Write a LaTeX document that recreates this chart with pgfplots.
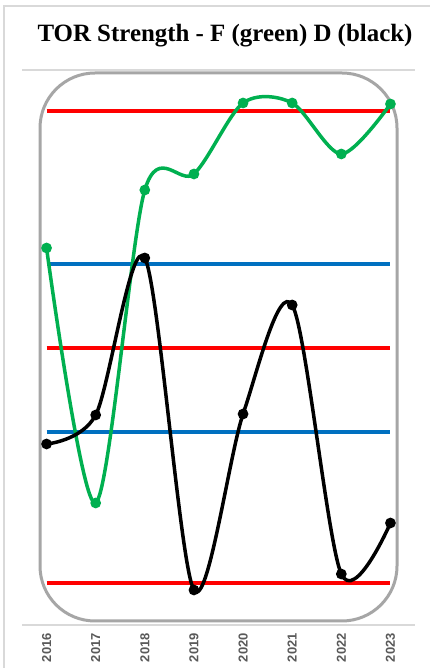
\documentclass[border=0pt]{standalone}
\usepackage{pgfplots}
\pgfplotsset{compat=1.18}
\usepackage{fontspec}
\setmainfont{Liberation Serif}
\newfontfamily\ticksfont{Liberation Sans}
\definecolor{xlgreen}{HTML}{00B050}
\definecolor{xlblue}{HTML}{0070C0}
\definecolor{xlred}{HTML}{FF0000}
\definecolor{ticktxt}{HTML}{595959}
\definecolor{shapegray}{HTML}{A6A6A6}
\definecolor{gridgray}{HTML}{D9D9D9}
\begin{document}
\begin{tikzpicture}[x=1bp,y=1bp]
\useasboundingbox (0,0) rectangle (430,668);
\fill[white] (0,0) rectangle (430,668);
\draw[gridgray, line width=1.2bp] (4,0) -- (4,662) -- (430,662);
\node[font=\bfseries\fontsize{25}{28}\selectfont, anchor=base, inner sep=0] at (225,626) {TOR Strength - F (green) D (black)};
\draw[shapegray, line width=3bp, rounded corners=55bp] (40,47) rectangle (397,595);
\begin{axis}[at={(22bp,43bp)}, anchor=south west, width=393bp, height=555bp, scale only axis,
  xmin=2015.5, xmax=2023.5, ymin=0, ymax=555, clip=false,
  axis line style={draw=none}, major tick length=0pt,
  xtick={2016,2017,2018,2019,2020,2021,2022,2023},
  xticklabels={2016,2017,2018,2019,2020,2021,2022,2023},
  xticklabel style={rotate=90, anchor=east, inner sep=0pt, text=ticktxt, font=\ticksfont\bfseries\fontsize{13}{15}\selectfont},
  xticklabel shift=8bp,
  ytick={0,555}, yticklabels={}, ymajorgrids, grid style={gridgray, line width=1.2bp},
]
\addplot[xlred, line width=3.5bp, no marks] coordinates {(2016,514) (2023,514)};
\addplot[xlred, line width=3.5bp, no marks] coordinates {(2016,277) (2023,277)};
\addplot[xlred, line width=3.5bp, no marks] coordinates {(2016,42) (2023,42)};
\addplot[xlblue, line width=3.5bp, no marks] coordinates {(2016,361) (2023,361)};
\addplot[xlblue, line width=3.5bp, no marks] coordinates {(2016,193) (2023,193)};
\addplot[xlgreen, line width=3.5bp, smooth, tension=0.5, mark=*, mark size=3.5bp] coordinates {
(2016,377) (2017,122) (2018,435) (2019,451) (2020,522) (2021,522) (2022,471) (2023,521)};
\addplot[black, line width=3.5bp, smooth, tension=0.5, mark=*, mark size=3.5bp] coordinates {
(2016,181) (2017,210) (2018,367) (2019,35) (2020,211) (2021,320) (2022,51) (2023,102)};
\end{axis}
\end{tikzpicture}
\end{document}
